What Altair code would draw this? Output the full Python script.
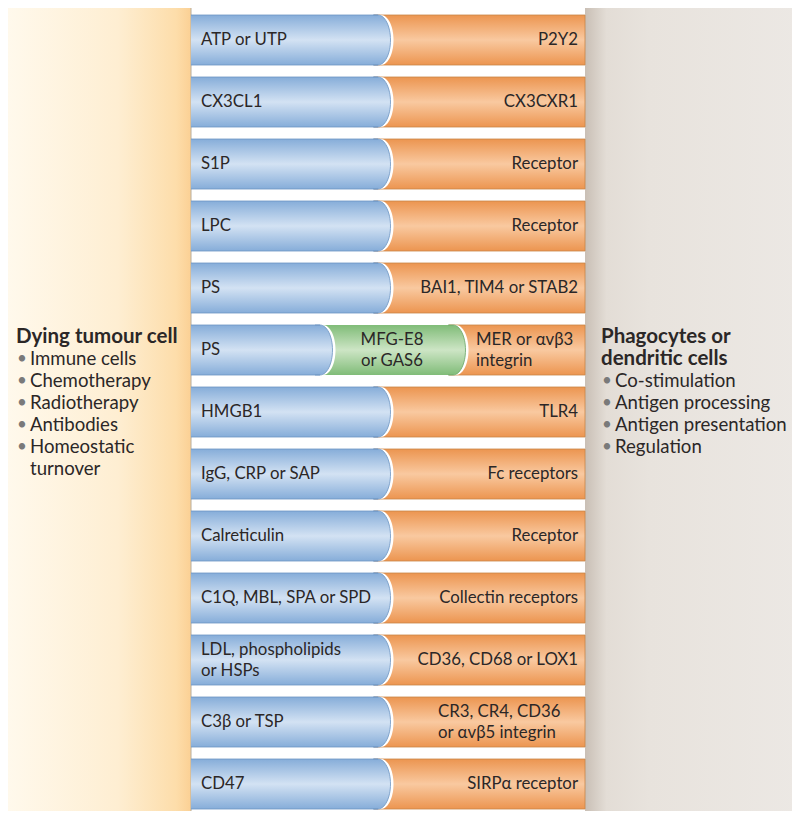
import altair as alt
import pandas as pd

# ---- content -------------------------------------------------------------
LEFT_LABELS = ["ATP or UTP", "CX3CL1", "S1P", "LPC", "PS", "PS", "HMGB1",
               "IgG, CRP or SAP", "Calreticulin", "C1Q, MBL, SPA or SPD",
               "LDL, phospholipids|or HSPs", "C3β or TSP", "CD47"]
RIGHT_LABELS = ["P2Y2", "CX3CXR1", "Receptor", "Receptor", "BAI1, TIM4 or STAB2",
                "MER or αvβ3|integrin", "TLR4", "Fc receptors", "Receptor",
                "Collectin receptors", "CD36, CD68 or LOX1",
                "CR3, CR4, CD36|or αvβ5 integrin", "SIRPα receptor"]
BRIDGE_ROW = 5
BRIDGE_LABEL = "MFG-E8|or GAS6"
DYING_TITLE = ["Dying tumour cell"]
DYING_ITEMS = ["Immune cells", "Chemotherapy", "Radiotherapy", "Antibodies",
               "Homeostatic|turnover"]
PHAGO_TITLE = ["Phagocytes or", "dendritic cells"]
PHAGO_ITEMS = ["Co-stimulation", "Antigen processing", "Antigen presentation",
               "Regulation"]

# ---- layout (page pixels) --------------------------------------------------
W, H = 784, 803
ROW0, PITCH, ROWH = 15, 62, 50
XL, XJ, XR = 191, 378, 585     # blue start, blue flat end, orange end
GAP = 3                        # white gap between capsules
BRIDGE_BLUE, BRIDGE_GREEN = 320, 453
LINE = 21
FONT = "Lato"
INK = "#2b2727"
HALF = ROWH / 2
# half-ellipse cap (unit square path, scaled by sqrt(size)/2)
CAP = "M -0.2 -1 L 0 -1 A 0.5 1 0 0 1 0 1 L -0.2 1"
CAP_SIZE = (2 * HALF) ** 2


def row_top(i):
    return ROW0 + PITCH * i


orange = []
blue_r, blue_c, blue_hr, blue_hc = [], [], [], []
green_r, green_c, green_hr, green_hc = [], [], [], []
blue_lines = []
for i in range(len(LEFT_LABELS)):
    t = row_top(i)
    b = t + ROWH
    c = t + HALF
    if i == BRIDGE_ROW:
        bx = BRIDGE_BLUE
        gx = BRIDGE_GREEN
        green_r.append(dict(x=bx - 4, x2=gx, y=t, y2=b))
        green_c.append(dict(x=gx, y=c))
        green_hr.append(dict(x=gx - 1, x2=gx + GAP, y=t, y2=b))
        green_hc.append(dict(x=gx + GAP, y=c))
        orange.append(dict(x=gx - 4, x2=XR, y=t, y2=b))
    else:
        bx = XJ
        orange.append(dict(x=XJ - 4, x2=XR, y=t, y2=b))
    blue_r.append(dict(x=XL, x2=bx, y=t, y2=b))
    blue_c.append(dict(x=bx, y=c))
    blue_hr.append(dict(x=bx - 1, x2=bx + GAP, y=t, y2=b))
    blue_hc.append(dict(x=bx + GAP, y=c))
    blue_lines.append(dict(x=XL, x2=bx, y=t))
    blue_lines.append(dict(x=XL, x2=bx, y=b))

txt_left, txt_right, txt_center = [], [], []
for i, (lab, rab) in enumerate(zip(LEFT_LABELS, RIGHT_LABELS)):
    c = row_top(i) + HALF
    lines = lab.split("|")
    for k, ln in enumerate(lines):
        txt_left.append(dict(x=201, y=c + (k - (len(lines) - 1) / 2) * LINE, t=ln))
    rl = rab.split("|")
    if len(rl) == 1:
        txt_right.append(dict(x=578, y=c, t=rab))
    else:
        xs = 476 if i == BRIDGE_ROW else 438
        for k, ln in enumerate(rl):
            txt_left.append(dict(x=xs, y=c + (k - 0.5) * LINE, t=ln))
    if i == BRIDGE_ROW:
        bl = BRIDGE_LABEL.split("|")
        for k, ln in enumerate(bl):
            txt_center.append(dict(x=392, y=c + (k - 0.5) * LINE, t=ln))

bold, items, bullets = [], [], []
y = 337
for ln in DYING_TITLE:
    bold.append(dict(x=16, y=y, t=ln)); y += 22
for it in DYING_ITEMS:
    bullets.append(dict(x=17, y=y, t="•"))
    for p in it.split("|"):
        items.append(dict(x=30, y=y, t=p)); y += 22
y = 337
for ln in PHAGO_TITLE:
    bold.append(dict(x=601, y=y, t=ln)); y += 22
for it in PHAGO_ITEMS:
    bullets.append(dict(x=602, y=y, t="•"))
    items.append(dict(x=615, y=y, t=it)); y += 22

panels_left = pd.DataFrame([dict(x=8, x2=XL, y=5, y2=830)])
panels_right = pd.DataFrame([dict(x=XR, x2=800, y=4, y2=830)])

xs = alt.Scale(domain=[8, 8 + W], nice=False, zero=False)
ys = alt.Scale(domain=[8, 8 + H], nice=False, zero=False, reverse=True)
X = alt.X("x:Q", scale=xs, axis=None)
X2 = alt.X2("x2:Q")
Y = alt.Y("y:Q", scale=ys, axis=None)
Y2 = alt.Y2("y2:Q")


def grad(stops, horizontal=False):
    return {"gradient": "linear", "x1": 0, "y1": 0,
            "x2": 1 if horizontal else 0, "y2": 0 if horizontal else 1,
            "stops": [{"offset": o, "color": c} for o, c in stops]}


BLUE = grad([(0, "#86ADD9"), (0.5, "#D3E2F3"), (1, "#86ADD9")])
ORANGE = grad([(0, "#EC9550"), (0.5, "#F9C9A0"), (1, "#EC9550")])
GREEN = grad([(0, "#80BC78"), (0.5, "#CDE5C5"), (1, "#80BC78")])
LPANEL = grad([(0, "#FFF9EC"), (0.6, "#FEEED2"), (0.92, "#FDDDAA"), (1, "#FBD094")], True)
RPANEL = grad([(0, "#C9BFB5"), (0.1, "#E3DDD6"), (0.3, "#E8E3DD"), (1, "#ECE8E4")], True)


def rects(data, fill, stroke=None):
    kw = dict(color=fill)
    if stroke:
        kw.update(stroke=stroke, strokeWidth=0.8)
    return alt.Chart(pd.DataFrame(data)).mark_rect(**kw).encode(x=X, x2=X2, y=Y, y2=Y2)


def caps(data, fill, stroke=None):
    kw = dict(shape=CAP, size=CAP_SIZE, filled=True, fill=fill, opacity=1)
    if stroke:
        kw.update(stroke=stroke, strokeWidth=0.8)
    else:
        kw.update(strokeWidth=0)
    return alt.Chart(pd.DataFrame(data)).mark_point(**kw).encode(x=X, y=Y)


def texts(data, align="left", size=16.8, weight="normal", color=INK):
    return alt.Chart(pd.DataFrame(data)).mark_text(
        align=align, baseline="middle", font=FONT, fontSize=size,
        fontWeight=weight, color=color).encode(x=X, y=Y, text="t:N")


layers = [
    alt.Chart(panels_left).mark_rect(color=LPANEL).encode(x=X, x2=X2, y=Y, y2=Y2),
    alt.Chart(panels_right).mark_rect(color=RPANEL).encode(x=X, x2=X2, y=Y, y2=Y2),
    alt.Chart(pd.DataFrame([dict(x=XL, y=5, y2=830)])).mark_rule(
        color="#B8AE9E", strokeWidth=1).encode(x=X, y=Y, y2=Y2),
    rects(orange, ORANGE, stroke="#C98648"),
    # green capsule of the bridging molecule
    rects(green_hr, "white"),
    caps(green_hc, "white"),
    rects(green_r, GREEN),
    caps(green_c, GREEN, stroke="#6AA566"),
    # blue ligand capsules
    rects(blue_hr, "white"),
    caps(blue_hc, "white"),
    rects(blue_r, BLUE),
    caps(blue_c, BLUE, stroke="#6D95C3"),
    alt.Chart(pd.DataFrame(blue_lines)).mark_rule(
        color="#6D95C3", strokeWidth=0.8).encode(x=X, x2=X2, y=Y),
    texts(txt_left),
    texts(txt_right, align="right"),
    texts(txt_center, align="center"),
    texts(bold, size=20.5, weight="bold"),
    texts(items, size=18.6),
    texts(bullets, size=17, color="#7a7a7a"),
]

chart = alt.layer(*layers).properties(
    width=W, height=H, padding=0, autosize=alt.AutoSizeParams(type="none"),
    background="white"
).configure_view(strokeWidth=0)

chart.save("out.html", embed_options={"renderer": "svg", "actions": False})
